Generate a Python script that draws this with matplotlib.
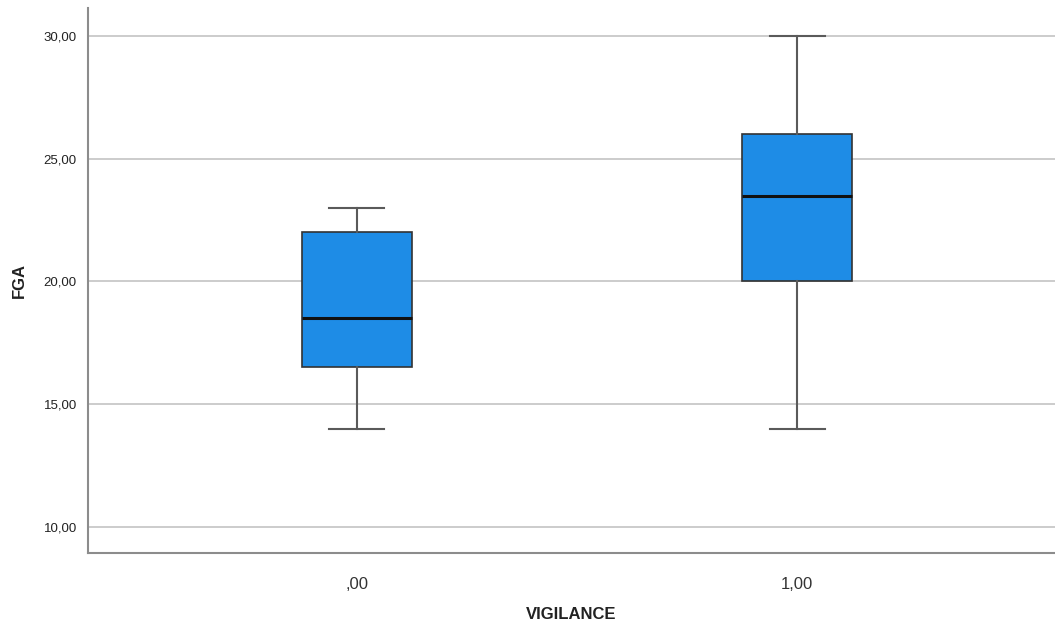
import matplotlib
matplotlib.use("Agg")
import matplotlib.pyplot as plt

# данные из картинки
categories = [",00", "1,00"]
whisker_low = [14.0, 14.0]
q1 = [16.5, 20.0]
median = [18.5, 23.5]
q3 = [22.0, 26.0]
whisker_high = [23.0, 30.0]
y_ticks = [10, 15, 20, 25, 30]

BOX_COLOR = "#1E8CE6"

plt.rcParams["font.family"] = ["Liberation Sans", "DejaVu Sans"]

fig = plt.figure(figsize=(10.55, 6.3), dpi=100)
ax = fig.add_axes([0.0834, 0.1222, 0.9166, 0.8651])

stats = []
for i, cat in enumerate(categories):
    stats.append({
        "label": cat,
        "whislo": whisker_low[i],
        "q1": q1[i],
        "med": median[i],
        "q3": q3[i],
        "whishi": whisker_high[i],
        "fliers": [],
    })

ax.bxp(
    stats,
    positions=range(len(categories)),
    widths=0.25,
    patch_artist=True,
    showfliers=False,
    boxprops=dict(facecolor=BOX_COLOR, edgecolor="#333333", linewidth=1.2),
    medianprops=dict(color="#111111", linewidth=2.2),
    whiskerprops=dict(color="#5a5a5a", linewidth=1.5),
    capprops=dict(color="#5a5a5a", linewidth=1.5),
    capwidths=0.125,
    zorder=3,
)

ax.set_xlim(-0.611, 1.586)
ax.set_ylim(8.94, 31.14)
ax.set_yticks(y_ticks)
ax.set_yticklabels([f"{v:.2f}".replace(".", ",") for v in y_ticks],
                   fontsize=9.5, color="#222222")
ax.set_xticks(range(len(categories)))
ax.set_xticklabels(categories, fontsize=12, color="#333333")
ax.tick_params(axis="both", length=0)
ax.tick_params(axis="x", pad=17)
ax.tick_params(axis="y", pad=8)

ax.grid(True, axis="y", color="#c8c8c8", linewidth=1.3, zorder=0)
ax.set_axisbelow(True)

for side in ["top", "right"]:
    ax.spines[side].set_visible(False)
for side in ["left", "bottom"]:
    ax.spines[side].set_color("#8c8c8c")
    ax.spines[side].set_linewidth(1.5)

ax.set_ylabel("FGA", fontsize=12, fontweight="bold", color="#222222", labelpad=12)
ax.set_xlabel("VIGILANCE", fontsize=12, fontweight="bold", color="#222222", labelpad=11)

fig.savefig("out.png", dpi=100)
